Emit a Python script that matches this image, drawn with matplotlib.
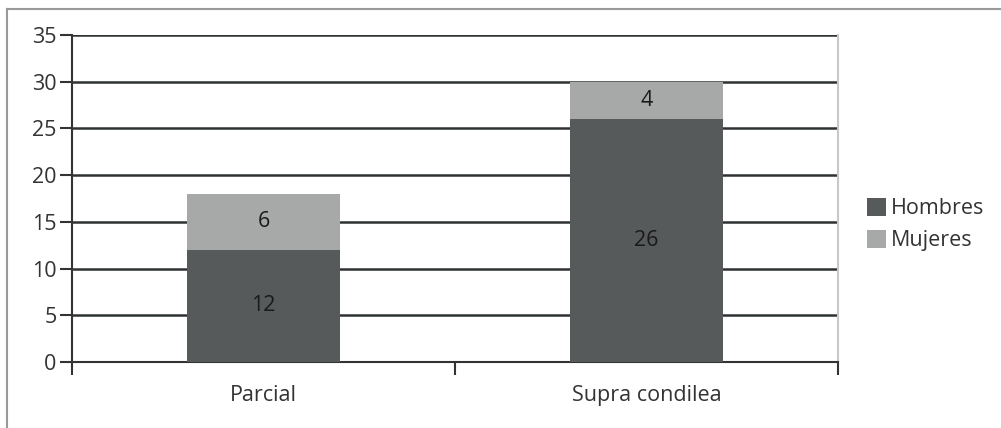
import matplotlib
matplotlib.use("Agg")
import matplotlib.pyplot as plt
from matplotlib.lines import Line2D

categories = ["Parcial", "Supra condilea"]
hombres = [12, 26]
mujeres = [6, 4]
yticks = [0, 5, 10, 15, 20, 25, 30, 35]

plt.rcParams['font.family'] = ['Open Sans', 'DejaVu Sans']

fig = plt.figure(figsize=(10.01, 4.28), dpi=100)
ax = fig.add_axes([72/1001, 1-362/428, (838-72)/1001, (362-35)/428])

dark = "#575a5b"
light = "#a7a9a9"
x = list(range(len(categories)))
w = 0.397
fs = 15.5
b1 = ax.bar(x, hombres, width=w, color=dark, label="Hombres", zorder=3)
b2 = ax.bar(x, mujeres, width=w, bottom=hombres, color=light, label="Mujeres", zorder=3)

for xi, h, m in zip(x, hombres, mujeres):
    ax.text(xi, h/2, str(h), ha="center", va="center", fontsize=fs, color="#1a1a1a", zorder=4)
    ax.text(xi, h + m/2, str(m), ha="center", va="center", fontsize=fs, color="#1a1a1a", zorder=4)

ax.set_ylim(0, 35)
ax.set_xlim(-0.5, 1.5)
ax.set_yticks(yticks)
ax.set_yticklabels([str(v) for v in yticks], fontsize=fs, color="#333333")
ax.yaxis.grid(True, color="#2e3233", linewidth=1.8, zorder=1)
ax.tick_params(axis="y", length=9, width=1.5, color="#333333", pad=2)

ax.set_xticks([-0.5, 0.5, 1.5])
ax.set_xticklabels([])
ax.tick_params(axis="x", length=9, width=1.5, color="#333333")
for xi, c in zip(x, categories):
    ax.text(xi, -0.07, c, transform=ax.get_xaxis_transform(), ha="center", va="top",
            fontsize=fs, color="#333333")

ax.spines["left"].set_color("#333333")
ax.spines["left"].set_linewidth(1.5)
ax.spines["bottom"].set_color("#333333")
ax.spines["bottom"].set_linewidth(1.5)
ax.spines["top"].set_visible(False)
ax.spines["right"].set_color("#c8c8c8")
ax.spines["right"].set_linewidth(1.5)

leg = ax.legend(handles=[b1, b2], loc="center left", bbox_to_anchor=(1.026, 0.42),
                frameon=False, fontsize=fs, handlelength=0.9, handleheight=0.9,
                handletextpad=0.25, labelspacing=0.5, borderaxespad=0)
for t in leg.get_texts():
    t.set_color("#333333")

# outer frame lines (top and left)
fig.add_artist(Line2D([7/1001, 1], [1-9/428, 1-9/428], transform=fig.transFigure, color="#999999", lw=1.5))
fig.add_artist(Line2D([7/1001, 7/1001], [0, 1-9/428], transform=fig.transFigure, color="#999999", lw=1.5))

fig.savefig("out.png", dpi=100)
